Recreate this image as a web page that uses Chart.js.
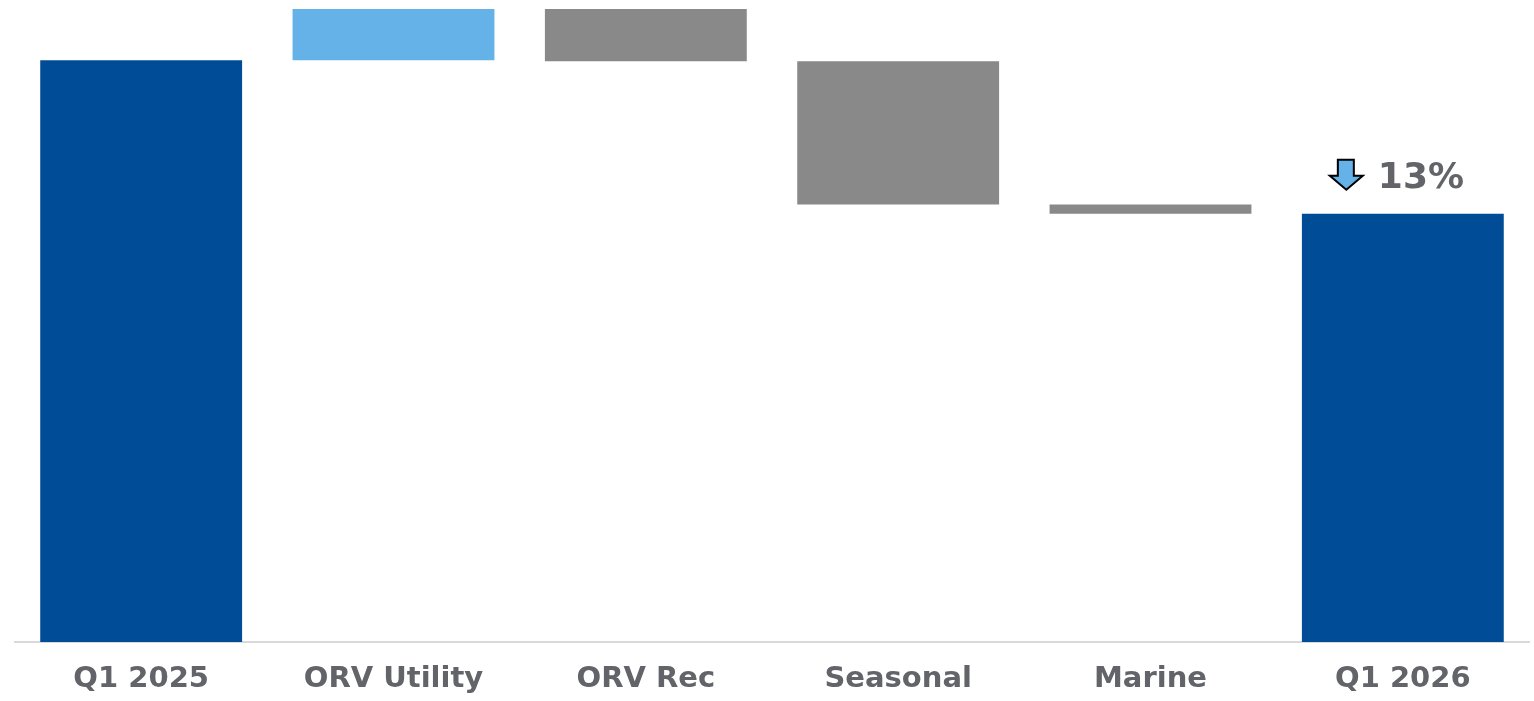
<!DOCTYPE html>
<html>
<head>
<meta charset="utf-8">
<title>Q1 2025 to Q1 2026 bridge</title>
<script src="https://cdn.jsdelivr.net/npm/chart.js@4/dist/chart.umd.min.js"></script>
<style>
  html, body { margin: 0; padding: 0; background: #ffffff; }
  #wrap { position: relative; width: 1534px; height: 701px; }
</style>
</head>
<body>
<div id="wrap"><canvas id="bridge"></canvas></div>
<script>
// Bridge categories, left to right
const categories = ['Q1 2025', 'ORV Utility', 'ORV Rec', 'Seasonal', 'Marine', 'Q1 2026'];
// Starting total (indexed) and the segment moves that lead to the closing total
const openingTotal = 100;
const segmentChanges = [4.4, -4.5, -12.3, -0.8];
// Value axis window
const valueAxisRange = [50, 104.4];

const COLOR_TOTAL = '#004C97';
const COLOR_UP = '#65B2E8';
const COLOR_DOWN = '#898989';
const TEXT_GRAY = '#626469';
const FONT_FAMILY = '"DejaVu Sans", Verdana, sans-serif';

// Floating bars: totals rise from the axis floor, segments float between running totals
const barRanges = [];
const barColors = [];
let running = openingTotal;
barRanges.push([valueAxisRange[0], openingTotal]);
barColors.push(COLOR_TOTAL);
segmentChanges.forEach(function (delta) {
  const next = running + delta;
  barRanges.push([Math.min(running, next), Math.max(running, next)]);
  barColors.push(delta >= 0 ? COLOR_UP : COLOR_DOWN);
  running = next;
});
const closingTotal = running;
barRanges.push([valueAxisRange[0], closingTotal]);
barColors.push(COLOR_TOTAL);

const changePct = Math.round(Math.abs(closingTotal - openingTotal) / openingTotal * 100);
const changeLabel = changePct + '%';

// Arrow and percentage over the closing bar
const changeBadge = {
  id: 'changeBadge',
  afterDatasetsDraw(chart) {
    const bar = chart.getDatasetMeta(0).data[categories.length - 1];
    if (!bar) return;
    const ctx = chart.ctx;
    const cx = bar.x;
    const topY = bar.y;
    ctx.save();
    // down arrow
    const left = cx - 73;
    const aTop = topY - 54;
    const aBottom = topY - 24;
    const headY = topY - 38;
    const shaftL = left + 8, shaftR = left + 24, headR = left + 33, mid = left + 16.5;
    ctx.beginPath();
    ctx.moveTo(shaftL, aTop);
    ctx.lineTo(shaftR, aTop);
    ctx.lineTo(shaftR, headY);
    ctx.lineTo(headR, headY);
    ctx.lineTo(mid, aBottom);
    ctx.lineTo(left, headY);
    ctx.lineTo(shaftL, headY);
    ctx.closePath();
    ctx.fillStyle = COLOR_UP;
    ctx.fill();
    ctx.lineWidth = 2;
    ctx.lineJoin = 'miter';
    ctx.strokeStyle = '#000000';
    ctx.stroke();
    // percentage text
    ctx.font = 'bold 36px ' + FONT_FAMILY;
    ctx.fillStyle = TEXT_GRAY;
    ctx.textAlign = 'left';
    ctx.textBaseline = 'alphabetic';
    ctx.fillText(changeLabel, cx - 25, topY - 26);
    ctx.restore();
  }
};

new Chart(document.getElementById('bridge'), {
  type: 'bar',
  data: {
    labels: categories,
    datasets: [{
      data: barRanges,
      backgroundColor: barColors,
      borderWidth: 0,
      barPercentage: 0.8,
      categoryPercentage: 1.0
    }]
  },
  options: {
    responsive: true,
    maintainAspectRatio: false,
    animation: false,
    layout: { padding: { top: 9, left: 15, right: 5, bottom: 0 } },
    plugins: {
      legend: { display: false },
      tooltip: { enabled: false }
    },
    scales: {
      x: {
        grid: { display: false, drawTicks: false },
        border: { display: true, color: '#d9d9d9', width: 2 },
        ticks: {
          color: TEXT_GRAY,
          padding: 20,
          font: { family: FONT_FAMILY, size: 29, weight: 'bold' },
          maxRotation: 0
        },
        afterFit(scale) { scale.height = 59; }
      },
      y: {
        display: false,
        min: valueAxisRange[0],
        max: valueAxisRange[1]
      }
    }
  },
  plugins: [changeBadge]
});
</script>
</body>
</html>
